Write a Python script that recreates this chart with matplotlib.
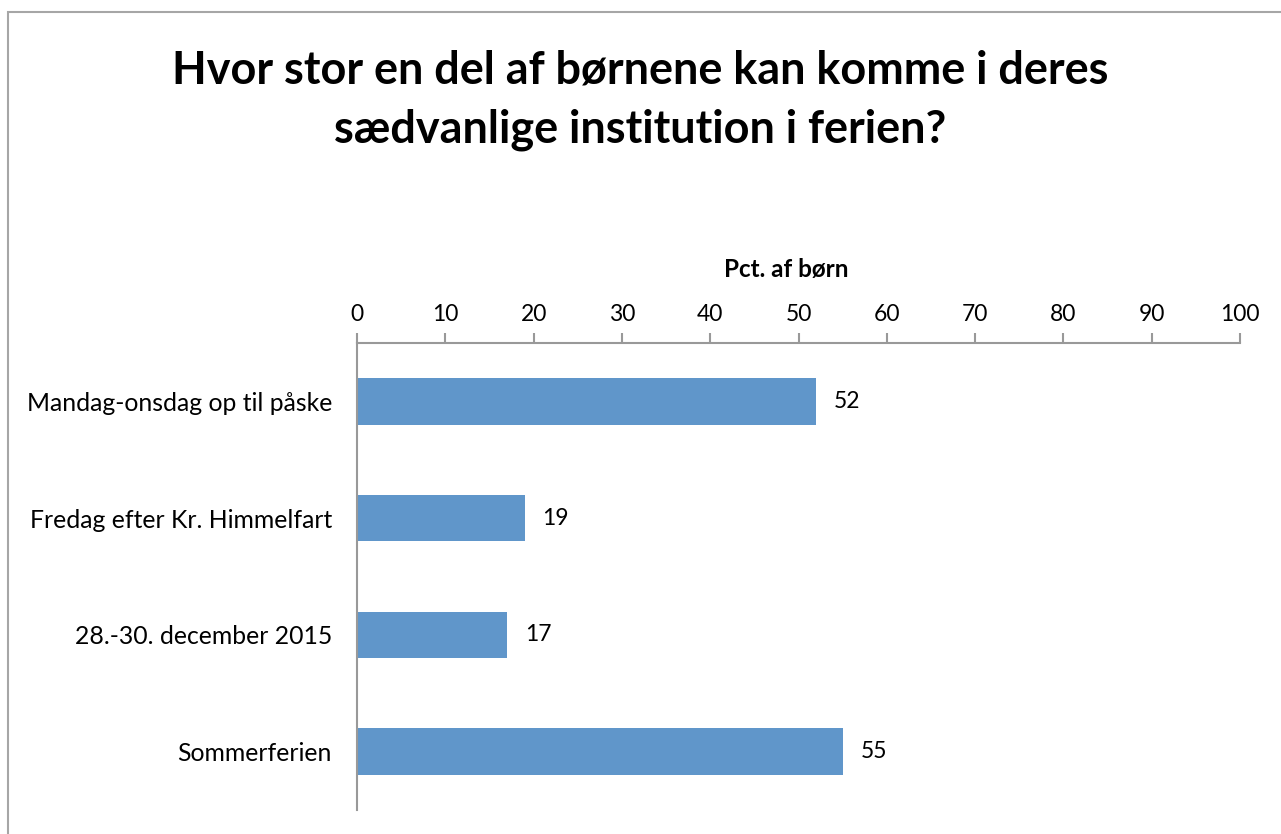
import matplotlib.pyplot as plt
from matplotlib.patches import Rectangle

plt.rcParams['font.family'] = ['Lato', 'DejaVu Sans']

categories = ["Mandag-onsdag op til påske", "Fredag efter Kr. Himmelfart",
              "28.-30. december 2015", "Sommerferien"]
values = [52, 19, 17, 55]
xticks = [0, 10, 20, 30, 40, 50, 60, 70, 80, 90, 100]

bar_color = "#6096CA"
axis_grey = "#999999"

fig = plt.figure(figsize=(12.81, 8.34), dpi=100)

# frame around the chart area (cut off at right and bottom)
fig.patches.append(Rectangle((8 / 1281, -0.01), 1.0, 1 - 12 / 834 + 0.01,
                             transform=fig.transFigure, fill=False,
                             edgecolor="#a6a6a6", linewidth=1.5))

ax = fig.add_axes([357 / 1281, 1 - 810 / 834, (1240 - 357) / 1281, (810 - 343) / 834])

ypos = list(range(len(categories)))
ax.barh(ypos, values, height=0.4, color=bar_color)
ax.set_ylim(len(categories) - 0.5, -0.5)
ax.set_xlim(0, 100)

for y, v in zip(ypos, values):
    ax.text(v + 2.0, y, str(v), va="center", ha="left", fontsize=16.5)

ax.xaxis.tick_top()
ax.set_xticks(xticks)
ax.set_xticklabels([str(t) for t in xticks], fontsize=16.5)
ax.tick_params(axis="x", direction="out", length=7, width=1.5, color=axis_grey, pad=6)
ax.set_yticks(ypos)
ax.set_yticklabels(categories, fontsize=17.8)
ax.tick_params(axis="y", length=0, pad=18)

# axis title above the tick labels
ax.text(0.486, 1 + 73 / 467, "Pct. af børn", transform=ax.transAxes,
        ha="center", va="center", fontsize=17.5, fontweight="bold")

for side in ["right", "bottom"]:
    ax.spines[side].set_visible(False)
for side in ["top", "left"]:
    ax.spines[side].set_color(axis_grey)
    ax.spines[side].set_linewidth(1.5)

fig.text(0.5, 1 - 100 / 834,
         "Hvor stor en del af børnene kan komme i deres\nsædvanlige institution i ferien?",
         ha="center", va="center", fontsize=32.4, fontweight="bold", linespacing=1.5)

fig.savefig("out.png", dpi=100)
